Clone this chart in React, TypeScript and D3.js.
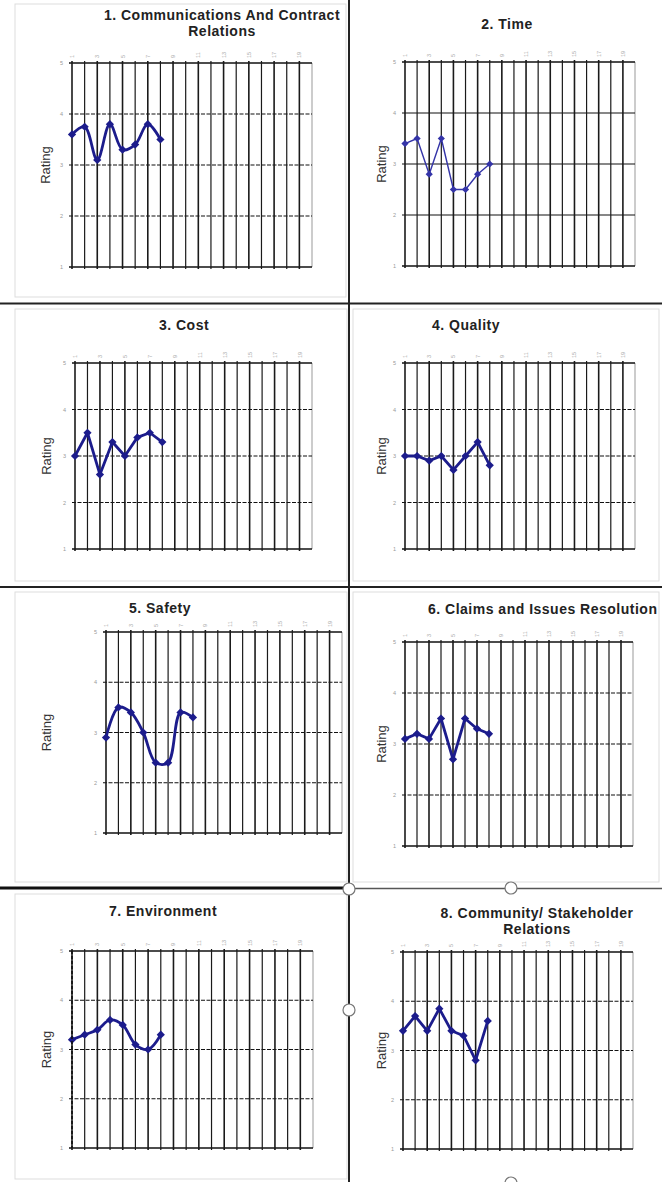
import * as d3 from 'd3';

// survey periods that have ratings, and the tick labels used on the axes
const periods = [1, 2, 3, 4, 5, 6, 7, 8];
const xTickLabels = [1, 3, 5, 7, 9, 11, 13, 15, 17, 19];
const gridColumns = [1, 2, 3, 4, 5, 6, 7, 8, 9, 10, 11, 12, 13, 14, 15, 16, 17, 18, 19];
const yTickLabels = [1, 2, 3, 4, 5];

const communicationsRatings = [3.6, 3.75, 3.1, 3.8, 3.3, 3.4, 3.8, 3.5];
const timeRatings = [3.4, 3.5, 2.8, 3.5, 2.5, 2.5, 2.8, 3.0];
const costRatings = [3.0, 3.5, 2.6, 3.3, 3.0, 3.4, 3.5, 3.3];
const qualityRatings = [3.0, 3.0, 2.9, 3.0, 2.7, 3.0, 3.3, 2.8];
const safetyRatings = [2.9, 3.5, 3.4, 3.0, 2.4, 2.4, 3.4, 3.3];
const claimsRatings = [3.1, 3.2, 3.1, 3.5, 2.7, 3.5, 3.3, 3.2];
const environmentRatings = [3.2, 3.3, 3.4, 3.6, 3.5, 3.1, 3.0, 3.3];
const communityRatings = [3.4, 3.7, 3.4, 3.85, 3.4, 3.3, 2.8, 3.6];

const WIDTH = 662;
const HEIGHT = 1182;
const FONT = "'Liberation Sans', Arial, sans-serif";

interface PanelProps {
  title: string[];
  titleX: number;
  titleY: number;
  titleAnchor?: 'start' | 'middle';
  values: number[];
  left: number;
  right: number;
  top: number;
  bottom: number;
  labelX: number;
  smooth: boolean;
  thin?: boolean;
  dashed?: boolean;
}

function Panel({
  title,
  titleX,
  titleY,
  titleAnchor = 'middle',
  values,
  left,
  right,
  top,
  bottom,
  labelX,
  smooth,
  thin = false,
  dashed = true,
}: PanelProps) {
  const x = d3.scaleLinear().domain([1, 20]).range([left, right]);
  const y = d3.scaleLinear().domain([1, 5]).range([bottom, top]);
  const points = periods.map((p, i) => [p, values[i]] as [number, number]);
  const line = d3
    .line<[number, number]>()
    .x((d) => x(d[0]))
    .y((d) => y(d[1]))
    .curve(smooth ? d3.curveCatmullRom.alpha(0.5) : d3.curveLinear);
  const marker = d3.symbol().type(d3.symbolSquare).size(thin ? 26 : 34)();
  const lineColor = thin ? '#3434a8' : '#1c1c8c';

  return (
    <g>
      <text
        x={titleX}
        y={titleY}
        textAnchor={titleAnchor}
        fontFamily={FONT}
        fontWeight="bold"
        fontSize={14}
        letterSpacing={0.5}
        fill="#222"
      >
        {title.map((t, i) => (
          <tspan key={i} x={titleX} dy={i === 0 ? 0 : 16}>
            {t}
          </tspan>
        ))}
      </text>

      {/* plot frame */}
      <line x1={right} x2={right} y1={top} y2={bottom} stroke="#999" strokeWidth={1} />

      {/* horizontal gridlines */}
      {yTickLabels.map((v) => (
        <line
          key={`h${v}`}
          x1={x(1) - 3}
          x2={right}
          y1={y(v)}
          y2={y(v)}
          stroke="#111"
          strokeWidth={v === 1 || v === 5 ? 1.4 : 1.2}
          strokeDasharray={dashed && v > 1 && v < 5 ? '4,1.5' : undefined}
        />
      ))}

      {/* vertical gridlines */}
      {gridColumns.map((c) => (
        <line
          key={`v${c}`}
          x1={x(c)}
          x2={x(c)}
          y1={top - 2}
          y2={bottom + 2}
          stroke="#1a1a1a"
          strokeWidth={c % 2 === 1 ? 1.6 : 1.2}
        />
      ))}

      {/* y tick labels */}
      {yTickLabels.map((v) => (
        <text
          key={`yt${v}`}
          x={x(1) - 9}
          y={y(v) + 2}
          textAnchor="end"
          fontFamily={FONT}
          fontSize={5.5}
          fill="#999"
        >
          {v}
        </text>
      ))}

      {/* x tick labels, rotated, across the top */}
      {xTickLabels.map((v) => (
        <text
          key={`xt${v}`}
          transform={`translate(${x(v) + 2},${top - 5}) rotate(-90)`}
          fontFamily={FONT}
          fontSize={5.5}
          fill="#aaa"
        >
          {v}
        </text>
      ))}

      <text
        transform={`translate(${labelX},${(top + bottom) / 2}) rotate(-90)`}
        textAnchor="middle"
        fontFamily={FONT}
        fontSize={13}
        fill="#333"
      >
        Rating
      </text>

      <path
        d={line(points) ?? ''}
        fill="none"
        stroke={lineColor}
        strokeWidth={thin ? 1.4 : 2.8}
        strokeLinejoin="round"
      />
      {points.map((d, i) => (
        <path
          key={`m${i}`}
          d={marker ?? ''}
          transform={`translate(${x(d[0])},${y(d[1])}) rotate(45)`}
          fill={lineColor}
        />
      ))}
    </g>
  );
}

export default function App() {
  return (
    <svg
      width={WIDTH}
      height={HEIGHT}
      style={{ position: 'absolute', left: 0, top: 0, background: '#fff' }}
    >
      <rect width={WIDTH} height={HEIGHT} fill="#fff" />

      {/* faint chart-area borders */}
      <rect x={15} y={4} width={331} height={293} fill="none" stroke="#ddd" />
      <rect x={15} y={309} width={332} height={272} fill="none" stroke="#ddd" />
      <rect x={15} y={592} width={332} height={290} fill="none" stroke="#ddd" />
      <rect x={15} y={894} width={332} height={285} fill="none" stroke="#ddd" />
      <rect x={353} y={309} width={306} height={272} fill="none" stroke="#ddd" />
      <rect x={353} y={592} width={306} height={290} fill="none" stroke="#ddd" />

      <Panel
        title={['1. Communications And Contract', 'Relations']}
        titleX={222}
        titleY={20}
        values={communicationsRatings}
        left={72}
        right={312}
        top={63}
        bottom={267}
        labelX={50}
        smooth
      />
      <Panel
        title={['2. Time']}
        titleX={507}
        titleY={29}
        values={timeRatings}
        left={405}
        right={635}
        top={62}
        bottom={266}
        labelX={386}
        smooth={false}
        thin
        dashed={false}
      />
      <Panel
        title={['3. Cost']}
        titleX={184}
        titleY={330}
        values={costRatings}
        left={75}
        right={312}
        top={363}
        bottom={549}
        labelX={51}
        smooth={false}
      />
      <Panel
        title={['4. Quality']}
        titleX={466}
        titleY={330}
        values={qualityRatings}
        left={405}
        right={635}
        top={363}
        bottom={549}
        labelX={386}
        smooth={false}
      />
      <Panel
        title={['5. Safety']}
        titleX={160}
        titleY={613}
        values={safetyRatings}
        left={106}
        right={342}
        top={632}
        bottom={833}
        labelX={51}
        smooth
      />
      <Panel
        title={['6. Claims and Issues Resolution']}
        titleX={428}
        titleY={614}
        titleAnchor="start"
        values={claimsRatings}
        left={405}
        right={633}
        top={642}
        bottom={846}
        labelX={386}
        smooth={false}
      />
      <Panel
        title={['7. Environment']}
        titleX={163}
        titleY={916}
        values={environmentRatings}
        left={72}
        right={313}
        top={951}
        bottom={1148}
        labelX={51}
        smooth
      />
      <Panel
        title={['8. Community/ Stakeholder', 'Relations']}
        titleX={537}
        titleY={918}
        values={communityRatings}
        left={403}
        right={633}
        top={952}
        bottom={1149}
        labelX={386}
        smooth={false}
      />

      {/* dashed left axis of panel 7 */}
      <line x1={72} x2={72} y1={951} y2={1148} stroke="#111" strokeWidth={1.6} strokeDasharray="3,2" />

      {/* dividers between the panels */}
      <line x1={349} x2={349} y1={0} y2={HEIGHT} stroke="#222" strokeWidth={2} />
      <line x1={0} x2={WIDTH} y1={303.5} y2={303.5} stroke="#222" strokeWidth={2} />
      <line x1={0} x2={WIDTH} y1={587} y2={587} stroke="#222" strokeWidth={2} />
      <line x1={0} x2={349} y1={888} y2={888} stroke="#111" strokeWidth={3} />
      <line x1={349} x2={WIDTH} y1={888.5} y2={888.5} stroke="#555" strokeWidth={1.5} />

      {/* selection handles */}
      {[
        [349, 889],
        [511, 888],
        [349, 1010],
        [511, 1183],
      ].map(([cx, cy], i) => (
        <circle key={i} cx={cx} cy={cy} r={6} fill="#fff" stroke="#777" strokeWidth={1.2} />
      ))}
    </svg>
  );
}
